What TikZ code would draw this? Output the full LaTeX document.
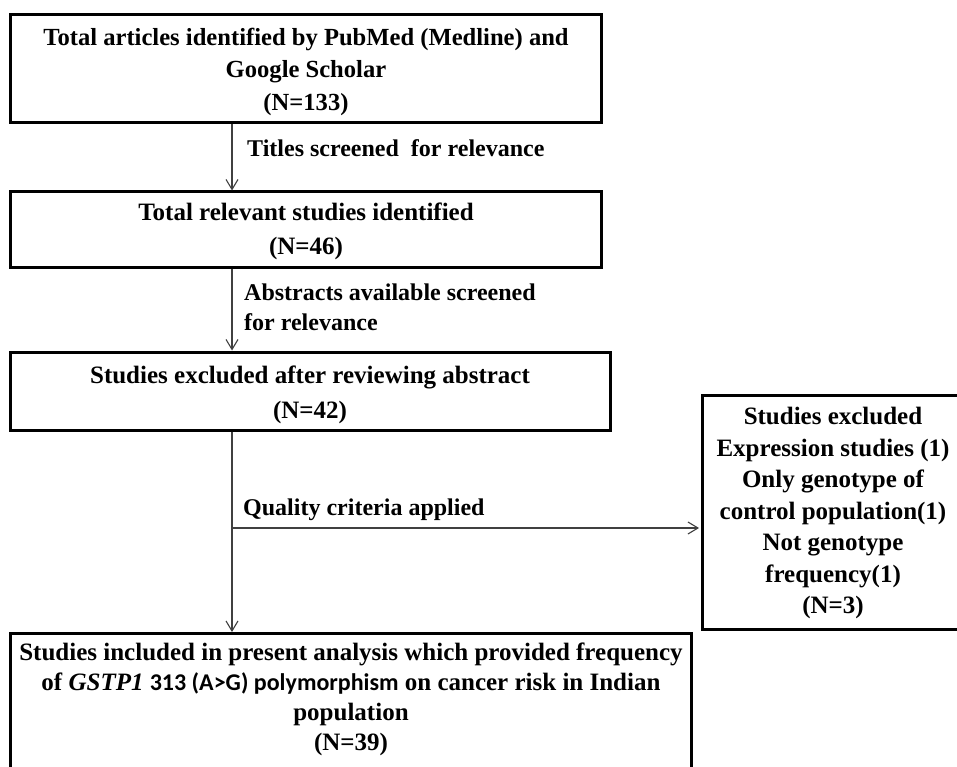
\documentclass[tikz,border=0pt]{standalone}
\usepackage{fontspec}
\setmainfont{Liberation Serif}
\newfontfamily\calfont{Carlito}
\usetikzlibrary{arrows.meta,calc}
\tikzset{
  box/.style={draw=black, line width=3pt, inner sep=0pt},
  txt/.style={align=center, inner sep=0pt, font=\bfseries\fontsize{25}{32.5}\selectfont},
  arr/.style={draw=black!75, line width=1.1pt, -{Straight Barb[length=10pt,width=12pt]}},
  lbl/.style={anchor=west, align=left, inner sep=0pt, font=\bfseries\fontsize{24}{30}\selectfont}
}
\begin{document}
\begin{tikzpicture}[x=1pt,y=-1pt]
\useasboundingbox (0,0) rectangle (957,767);
\clip (0,0) rectangle (957,767);
\fill[white] (0,0) rectangle (957,767);
% boxes
\node[box, minimum width=591pt, minimum height=108pt] (b1) at (305.5,69) {};
\node[box, minimum width=591pt, minimum height=75pt] (b2) at (305.5,229.5) {};
\node[box, minimum width=600pt, minimum height=78pt] (b3) at (310,391) {};
\node[box, minimum width=262pt, minimum height=234pt] (b4) at (833,512) {};
\node[box, minimum width=681pt, minimum height=150pt, anchor=north] (b5) at (350.5,632) {};
% texts
\node[txt, font=\bfseries\fontsize{24.6}{32.5}\selectfont] (t1) at (306,71.5)
  {Total articles identified by PubMed (Medline) and\\Google Scholar\\(N=133)};
\node[txt, font=\bfseries\fontsize{25}{34}\selectfont] (t2) at (306,231)
  {Total relevant studies identified\\(N=46)};
\node[txt, font=\bfseries\fontsize{25}{35}\selectfont] (t3) at (310,395)
  {Studies excluded after reviewing abstract\\(N=42)};
\node[txt, font=\bfseries\fontsize{25}{31.5}\selectfont] (t4) at (833,513)
  {Studies excluded\\Expression studies (1)\\Only genotype of\\control population(1)\\Not genotype\\frequency(1)\\(N=3)};
\node[txt, font=\bfseries\fontsize{25}{30}\selectfont] (t5) at (351,699)
  {Studies included in present analysis which provided frequency\\of \textit{GSTP1} {\calfont\fontsize{24}{30}\selectfont 313 (A>G) polymorphism} on cancer risk in Indian\\population\\(N=39)};
% connectors
\coordinate (ax) at (232,0);
\coordinate (q) at (232,528);
\draw[arr] (b1.south -| ax) -- (b2.north -| ax);
\draw[arr] (b2.south -| ax) -- (b3.north -| ax);
\draw[arr] (b3.south -| ax) -- (b5.north -| ax);
\draw[arr] (q) -- ($(q -| b4.west)+(-1.5,0)$);
% labels
\node[lbl] (l1) at (247,148) {Titles screened\ \ for relevance};
\node[lbl] (l2) at (244,307) {Abstracts available screened\\for relevance};
\node[lbl] (l3) at (243,510) {Quality criteria applied};
\end{tikzpicture}
\end{document}
